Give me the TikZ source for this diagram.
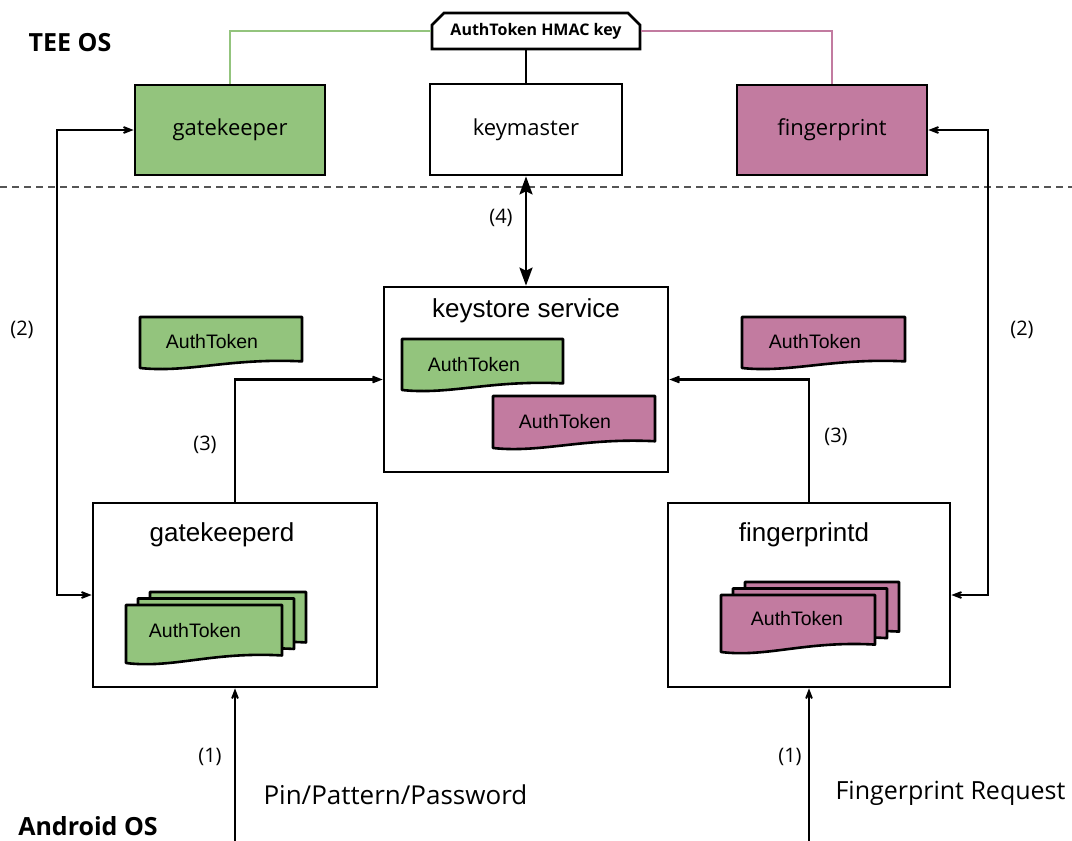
\documentclass[tikz,border=0pt]{standalone}
\usepackage{fontspec}
\setmainfont{Open Sans}
\newfontfamily\arialfont{Liberation Sans}
\usetikzlibrary{arrows.meta,shapes.misc}

\definecolor{tokgreen}{HTML}{93C47D}
\definecolor{tokpink}{HTML}{C27BA0}
\definecolor{dashgray}{HTML}{555555}

% document-shaped token: left x, top y, width, height, fill colour
\newcommand\tokshape[5]{%
  \filldraw[fill=#5, draw=black, line width=2.6pt, line join=round]
    (#1,#2) -- ({#1+#3},#2) -- ({#1+#3},{#2+0.87*#4})
    .. controls ({#1+0.55*#3},{#2+0.80*#4}) and ({#1+0.30*#3},{#2+1.10*#4}) ..
    (#1,{#2+#4}) -- cycle;}

\begin{document}
\begin{tikzpicture}[x=1pt,y=-1pt,
  box/.style={draw=black, line width=2.7pt, inner sep=0pt},
  oslabel/.style={font=\fontsize{25}{29}\selectfont\bfseries},
  tee/.style={font=\fontsize{22}{26}\selectfont},
  svc/.style={font=\arialfont\fontsize{26}{30}\selectfont},
  toktext/.style={font=\arialfont\fontsize{19.5}{23}\selectfont},
  steplabel/.style={font=\fontsize{20}{24}\selectfont},
  inlabel/.style={anchor=west},
  arr/.style={line width=2.4pt, -{Stealth[length=18pt,width=14pt,inset=11pt]}},
  biarr/.style={line width=2.4pt, {Stealth[length=18pt,width=14pt,inset=11pt]}-{Stealth[length=18pt,width=14pt,inset=11pt]}},
  keyarr/.style={line width=2.6pt, {Stealth[length=18pt,width=13pt,inset=3pt]}-{Stealth[length=18pt,width=13pt,inset=3pt]}},
]
\useasboundingbox[fill=white] (0,0) rectangle (1072,841);

% world labels and the boundary between them
\node[oslabel] (tee) at (70,43) {TEE OS};
\node[oslabel] (android) at (88,826) {Android OS};
\coordinate (dl) at (0,187);
\coordinate (dr) at (1072,187);
\draw[dashgray, line width=1.5pt, dash pattern=on 7pt off 5pt] (dl) -- (dr);

% TEE components
\node[box, fill=tokgreen, minimum width=190pt, minimum height=90pt, tee] (gk) at (230,130) {gatekeeper};
\node[box, fill=white, minimum width=192pt, minimum height=91pt, tee] (km) at (526,129.5) {keymaster};
\node[box, fill=tokpink, minimum width=190pt, minimum height=90pt, tee] (fp) at (832,130) {fingerprint};
\node[draw=black, line width=2.6pt, fill=white, chamfered rectangle,
      chamfered rectangle corners={north west,north east},
      chamfered rectangle xsep=6pt, chamfered rectangle ysep=6pt,
      minimum width=208pt, minimum height=36pt, inner sep=0pt,
      font=\fontsize{16}{19}\selectfont\bfseries] (hmac) at (536,31) {AuthToken HMAC key};

% shared key links
\draw[tokgreen, line width=2.2pt] (hmac.west) -| (gk.north);
\draw[tokpink, line width=2.2pt] (hmac.east) -| (fp.north);
\draw[line width=2.6pt] (km.north |- hmac.south) -- (km.north);

% Android services
\node[box, fill=white, minimum width=284pt, minimum height=185pt] (ks) at (526,379.5) {};
\node[svc] (kstitle) at (526,311) {keystore service};
\node[box, fill=white, minimum width=284pt, minimum height=184pt] (gkd) at (235,595) {};
\node[svc] (gkdtitle) at (222,535) {gatekeeperd};
\node[box, fill=white, minimum width=282pt, minimum height=184pt] (fpd) at (809,595) {};
\node[svc] (fpdtitle) at (804,535) {fingerprintd};

% tokens in transit
\tokshape{140}{317}{162}{51}{tokgreen}
\node[toktext] (tokg) at (212,342) {AuthToken};
\tokshape{742}{317}{163}{51}{tokpink}
\node[toktext] (tokp) at (815,342) {AuthToken};

% tokens held by keystore
\tokshape{402}{339}{161}{51}{tokgreen}
\node[toktext] (ksg) at (474,365) {AuthToken};
\tokshape{493}{396}{162}{52}{tokpink}
\node[toktext] (ksp) at (565,422) {AuthToken};

% token stacks in the daemons
\tokshape{150}{592}{156}{58}{tokgreen}
\tokshape{138}{598.5}{156}{58}{tokgreen}
\tokshape{126}{605}{156}{58}{tokgreen}
\node[toktext] (gkdtok) at (195,631) {AuthToken};
\tokshape{745}{582}{154}{57}{tokpink}
\tokshape{733}{588.5}{154}{57}{tokpink}
\tokshape{721}{595}{154}{57}{tokpink}
\node[toktext] (fpdtok) at (797,619) {AuthToken};

% (4) keystore <-> keymaster
\draw[keyarr] (km.south) -- (ks.north);
\node[steplabel] (s4) at (501,218) {(4)};

% (3) daemons -> keystore
\draw[arr] (gkd.north) |- (ks.west);
\draw[arr] (fpd.north) |- (ks.east);
\node[steplabel] (s3l) at (205,445) {(3)};
\node[steplabel] (s3r) at (836,437) {(3)};

% (2) daemons <-> TEE
\coordinate (l2a) at (57,130);
\coordinate (l2b) at (57,595);
\draw[biarr] (gk.west) -- (l2a) -- (l2b) -- (gkd.west);
\coordinate (r2a) at (988,130);
\coordinate (r2b) at (988,595);
\draw[biarr] (fp.east) -- (r2a) -- (r2b) -- (fpd.east);
\node[steplabel] (s2l) at (22,330) {(2)};
\node[steplabel] (s2r) at (1022,330) {(2)};

% (1) user input
\coordinate (in1) at (235,841);
\coordinate (in2) at (809,841);
\draw[arr] (in1) -- (gkd.south);
\draw[arr] (in2) -- (fpd.south);
\node[steplabel] (s1l) at (210,757) {(1)};
\node[steplabel] (s1r) at (790,757) {(1)};
\node[inlabel, font=\fontsize{26}{31}\selectfont] (pin) at (260,795) {Pin/Pattern/Password};
\node[inlabel, font=\fontsize{25}{30}\selectfont] (fpreq) at (832,793) {Fingerprint Request};
\end{tikzpicture}
\end{document}
